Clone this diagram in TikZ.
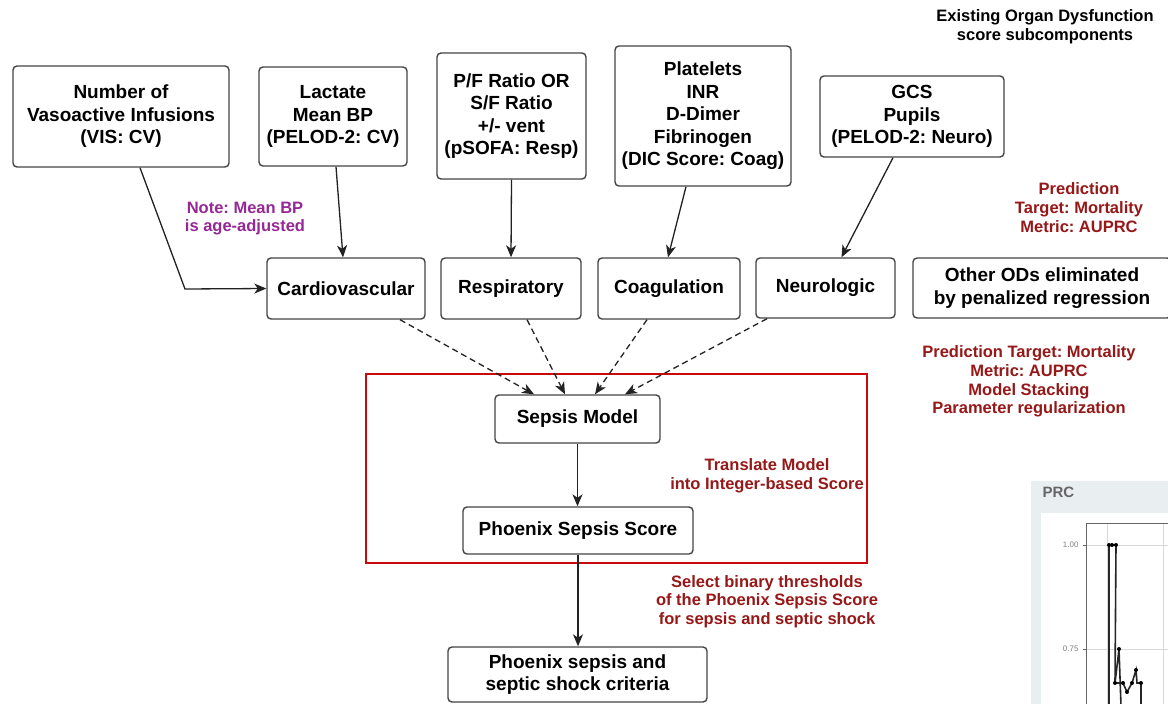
\documentclass[tikz,border=0pt]{standalone}
\usepackage{fontspec}
\setmainfont{Liberation Sans}
\frenchspacing
\usetikzlibrary{arrows.meta}
\definecolor{boxline}{HTML}{444444}
\definecolor{conn}{HTML}{222222}
\definecolor{darkred}{RGB}{150,24,24}
\definecolor{notepurple}{RGB}{150,40,150}
\definecolor{framered}{RGB}{200,10,10}
\definecolor{prcbg}{HTML}{E9EEF0}
\tikzset{
  box/.style={draw=boxline, line width=1.4pt, rounded corners=4pt, fill=white, align=center, inner sep=0pt,
    font=\bfseries\fontsize{19}{22.5}\selectfont},
  redtxt/.style={text=darkred, align=center, font=\bfseries\fontsize{16.5}{18.7}\selectfont},
  conn/.style={draw=conn, line width=1.3pt, -{Stealth[length=12pt,width=10pt,inset=3.5pt]}},
  dconn/.style={conn, dash pattern=on 6pt off 4pt}
}
\begin{document}
\begin{tikzpicture}[x=1pt,y=-1pt]
\useasboundingbox (0,0) rectangle (1168,704);
\fill[white] (0,0) rectangle (1168,704);

% PRC panel
\fill[prcbg] (1031,481) rectangle (1172,708);
\fill[white] (1041,513) rectangle (1172,708);
\draw[black!15, line width=0.6pt] (1086,545) -- (1172,545) (1086,649) -- (1172,649)
  (1107,523) -- (1107,708) (1163,523) -- (1163,708);
\draw[black!60, line width=0.8pt] (1086,704) -- (1086,523) -- (1172,523);
\draw[black!60, line width=0.6pt] (1083,545) -- (1086,545) (1083,649) -- (1086,649);
\node[text=black!50, font=\fontsize{8}{9}\selectfont, anchor=east] (t100) at (1082,545) {1.00};
\node[text=black!50, font=\fontsize{8}{9}\selectfont, anchor=east] (t075) at (1082,649) {0.75};
\node[text=black!60, font=\bfseries\fontsize{15}{16}\selectfont, anchor=west] (prc) at (1039,492) {PRC};
\draw[black!85, line width=1.6pt] (1109,706) -- (1109,545) -- (1116,545) -- (1115,683) -- (1119,649) -- (1121,706);
\draw[black!85, line width=1.6pt] (1115,683) -- (1123,683) -- (1127,692) -- (1132,683) -- (1136,670) -- (1137,683) -- (1141,683) -- (1141,706);
\foreach \p in {(1109,545),(1112,545),(1116,545),(1119,649),(1115,683),(1123,683),(1127,692),(1132,683),(1136,670),(1141,683)}
  \fill[black] \p circle (2);

% top boxes
\node[box, minimum width=216, minimum height=101] (vis) at (121,116.5) {Number of\\Vasoactive Infusions\\(VIS: CV)};
\node[box, minimum width=148, minimum height=99] (lac) at (333,116.5) {Lactate\\Mean BP\\(PELOD-2: CV)};
\node[box, minimum width=149, minimum height=126] (pf) at (511.5,116) {P/F Ratio OR\\S/F Ratio\\+/- vent\\(pSOFA: Resp)};
\node[box, minimum width=176, minimum height=140] (plt) at (703,116) {Platelets\\INR\\D-Dimer\\Fibrinogen\\(DIC Score: Coag)};
\node[box, minimum width=184, minimum height=81] (gcs) at (912,116.5) {GCS\\Pupils\\(PELOD-2: Neuro)};

% organ boxes
\node[box, minimum width=158, minimum height=61] (cardio) at (346,288.5) {Cardiovascular};
\node[box, minimum width=140, minimum height=61] (resp) at (511,288.5) {Respiratory};
\node[box, minimum width=142, minimum height=61] (coag) at (669,288.5) {Coagulation};
\node[box, minimum width=139, minimum height=60] (neuro) at (825.5,288) {Neurologic};
\node[box, minimum width=258, minimum height=60] (other) at (1042,288) {Other ODs eliminated\\by penalized regression};

% red frame
\draw[framered, line width=2pt] (366,374) rectangle (867,563);

% model boxes
\node[box, minimum width=165, minimum height=48] (sepsis) at (577.5,419) {Sepsis Model};
\node[box, minimum width=230, minimum height=47] (phx) at (578,530.5) {Phoenix Sepsis Score};
\node[box, minimum width=259, minimum height=55] (crit) at (577.5,674.5) {Phoenix sepsis and\\septic shock criteria};

% texts
\node[font=\bfseries\fontsize{16.5}{19}\selectfont, align=center] (title) at (1045,26.5) {Existing Organ Dysfunction\\score subcomponents};
\node[redtxt, text=notepurple] (note) at (245,218.5) {Note: Mean BP\\is age-adjusted};
\node[redtxt] (pred1) at (1079,207.5) {Prediction\\Target: Mortality\\Metric: AUPRC};
\node[redtxt] (pred2) at (1029,381.5) {Prediction Target: Mortality\\Metric: AUPRC\\Model Stacking\\Parameter regularization};
\node[redtxt] (trans) at (767,476) {Translate Model\\into Integer-based Score};
\node[redtxt] (sel) at (767,601.5) {Select binary thresholds\\of the Phoenix Sepsis Score\\for sepsis and septic shock};

% connectors
\coordinate (bend) at (185,289);
\draw[conn] ([xshift=19]vis.south) -- (bend) -- (cardio.west);
\draw[conn] ([xshift=3]lac.south) -- ([xshift=-3]cardio.north);
\draw[conn] (pf.south) -- (resp.north);
\draw[conn] ([xshift=-17]plt.south) -- ([xshift=-1]coag.north);
\draw[conn] ([xshift=-19]gcs.south) -- ([xshift=16]neuro.north);

\draw[dconn] ([xshift=54]cardio.south) -- ([xshift=-43.5]sepsis.north);
\draw[dconn] ([xshift=16]resp.south) -- ([xshift=-12.5]sepsis.north);
\draw[dconn] ([xshift=-22]coag.south) -- ([xshift=17.5]sepsis.north);
\draw[dconn] ([xshift=-58.5]neuro.south) -- ([xshift=47.5]sepsis.north);

\draw[conn] (sepsis.south) -- (sepsis.south |- phx.north);
\draw[conn] (phx.south) -- (phx.south |- crit.north);
\end{tikzpicture}
\end{document}
